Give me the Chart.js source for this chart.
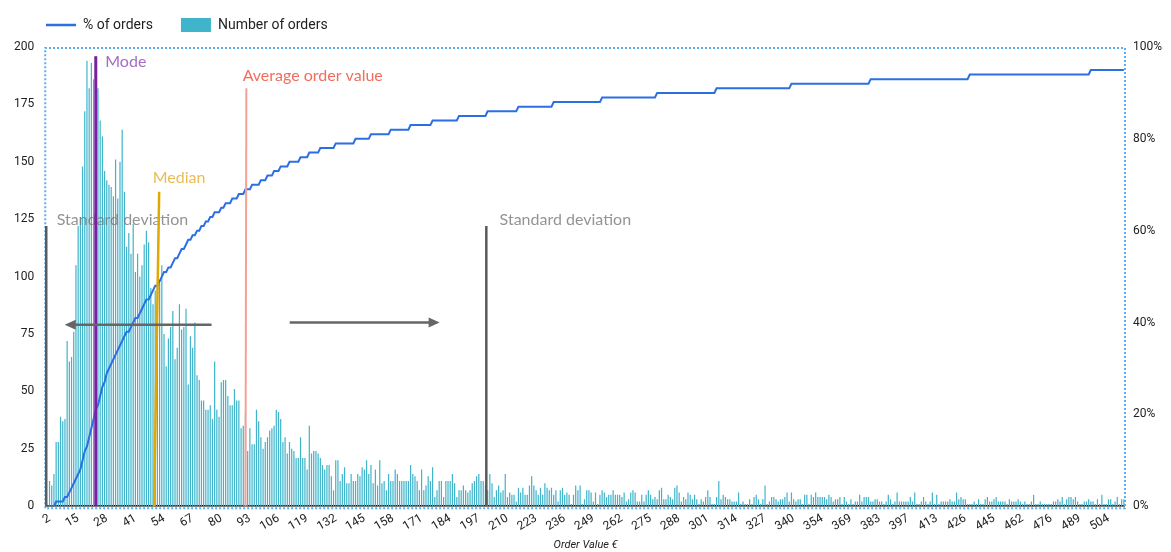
<!DOCTYPE html>
<html>
<head>
<meta charset="utf-8">
<title>Order value distribution</title>
<script src="https://cdn.jsdelivr.net/npm/chart.js@4.4.1/dist/chart.umd.min.js"></script>
<style>
  html, body { margin: 0; padding: 0; background: #fff; }
  #wrap { width: 1171px; height: 552px; }
</style>
</head>
<body>
<div id="wrap"><canvas id="chart"></canvas></div>
<script>
// order value (EUR) per bar; 1 has no orders, values above 340 are not all present
const categories = [
  1,2,3,4,5,6,7,8,9,10,11,12,13,14,15,16,17,18,19,20,
  21,22,23,24,25,26,27,28,29,30,31,32,33,34,35,36,37,38,39,40,
  41,42,43,44,45,46,47,48,49,50,51,52,53,54,55,56,57,58,59,60,
  61,62,63,64,65,66,67,68,69,70,71,72,73,74,75,76,77,78,79,80,
  81,82,83,84,85,86,87,88,89,90,91,92,93,94,95,96,97,98,99,100,
  101,102,103,104,105,106,107,108,109,110,111,112,113,114,115,116,117,118,119,120,
  121,122,123,124,125,126,127,128,129,130,131,132,133,134,135,136,137,138,139,140,
  141,142,143,144,145,146,147,148,149,150,151,152,153,154,155,156,157,158,159,160,
  161,162,163,164,165,166,167,168,169,170,171,172,173,174,175,176,177,178,179,180,
  181,182,183,184,185,186,187,188,189,190,191,192,193,194,195,196,197,198,199,200,
  201,202,203,204,205,206,207,208,209,210,211,212,213,214,215,216,217,218,219,220,
  221,222,223,224,225,226,227,228,229,230,231,232,233,234,235,236,237,238,239,240,
  241,242,243,244,245,246,247,248,249,250,251,252,253,254,255,256,257,258,259,260,
  261,262,263,264,265,266,267,268,269,270,271,272,273,274,275,276,277,278,279,280,
  281,282,283,284,285,286,287,288,289,290,291,292,293,294,295,296,297,298,299,300,
  301,302,303,304,305,306,307,308,309,310,311,312,313,314,315,316,317,318,319,320,
  321,322,323,324,325,326,327,328,329,330,331,332,333,334,335,336,337,338,339,340,
  341,342,343,344,345,346,348,349,350,351,352,353,354,
  355,356,357,359,360,361,362,363,365,366,367,368,369,
  370,371,372,373,374,375,377,378,379,380,381,382,383,
  384,385,386,387,388,389,390,392,393,394,395,396,397,
  398,399,400,402,403,404,406,407,408,410,411,412,413,
  414,415,416,417,418,419,420,421,422,423,424,425,426,
  427,428,430,431,433,434,436,437,439,441,442,444,445,
  446,447,448,450,451,453,454,456,457,458,460,461,462,
  463,464,465,466,467,468,469,471,472,473,474,475,476,
  477,478,479,480,481,482,483,484,485,486,487,488,489,
  490,491,492,493,494,496,497,498,499,501,502,503,504,
  505,506,508,509,511,512,514
];

// value labels shown under the axis
const xTickLabels = [2,15,28,41,54,67,80,93,106,119,132,145,158,171,184,197,210,223,236,249,
  262,275,288,301,314,327,340,354,369,383,397,413,426,445,462,476,489,504];

// number of orders per order value
const orderCounts = [
  0,
  11,9,14,28,28,39,37,38,72,63,65,76,105,122,126,148,172,194,182,193,
  186,196,182,168,161,146,142,140,139,135,151,134,150,164,137,113,119,110,123,102,
  110,100,105,114,120,115,95,88,94,98,
  97,105,75,61,73,78,85,64,69,88,77,78,86,53,74,69,80,57,55,46,
  46,42,42,44,38,63,42,39,54,55,55,48,44,44,51,46,46,34,35,41,
  24,34,27,27,42,37,30,25,28,30,33,34,35,42,41,38,28,30,23,28,
  25,24,21,21,30,21,21,16,
  35,23,24,24,23,21,18,16,18,18,13,7,20,20,11,14,17,10,10,14,
  11,11,14,13,17,16,20,14,18,10,16,9,20,10,11,7,14,11,11,16,
  14,11,11,11,11,11,18,14,13,11,7,16,7,9,13,11,17,4,7,11,
  11,4,11,11,11,14,10,4,7,7,9,7,6,7,10,11,13,14,11,11,
  9,7,14,10,4,7,9,6,7,14,4,6,5,5,2,8,
  6,8,5,5,9,13,9,7,5,8,5,10,8,7,8,5,7,2,7,8,
  5,6,5,1,5,9,7,9,1,3,7,7,6,2,6,1,5,7,6,4,
  5,5,7,5,5,5,4,6,2,3,6,7,6,2,2,5,2,5,7,5,
  3,4,3,7,8,3,3,5,4,3,8,9,6,2,4,3,6,5,3,5,
  3,1,3,2,4,7,4,1,1,4,11,3,5,4,3,3,2,2,2,6,
  1,2,1,1,3,1,4,5,3,1,3,9,1,2,4,4,3,2,3,3,
  4,6,2,6,3,2,3,3,1,5,5,1,5,4,6,4,
  4,4,4,3,5,4,2,3,3,4,1,4,2,1,3,1,2,2,5,2,
  4,4,4,2,2,3,3,2,2,1,2,5,3,1,2,6,2,2,2,2,
  2,4,2,6,1,1,2,4,2,1,2,6,1,5,1,2,2,2,2,3,
  2,2,6,3,4,3,3,1,1,1,2,1,3,1,1,3,4,2,2,3,
  4,2,2,2,2,1,3,2,2,2,3,2,1,2,1,1,2,5,1,1,
  2,1,1,1,1,1,2,2,3,2,4,1,3,4,4,3,4,2,1,1,
  2,2,3,2,2,1,3,1,5,1,1,3,3,1,2,4,1,3,
  3
];

// cumulative share of orders, %
const orderShare = [
  0,0,0,0,1,1,1,1,2,2,
  3,4,5,6,7,8,10,12,13,15,
  17,19,21,22,24,26,27,29,30,31,
  32,33,34,35,36,37,38,38,39,40,
  41,41,42,43,44,45,45,46,47,48,
  48,49,50,51,51,52,52,53,54,54,
  55,56,56,57,58,58,59,59,60,60,
  61,61,62,62,63,63,64,64,64,65,
  65,66,66,66,67,67,67,68,68,68,
  69,69,69, 70,70,70,70, 71,71,71, 72,72,72, 73,73,73, 74,74,74,74,
  75,75,75,75,75, 76,76,76,76, 77,77,77,77,77,
  78,78,78,78,78,78,78,
  79,79,79,79,79,79,79,79,79,
  80,80,80,80,80,80,80,
  81,81,81,81,81,81,81,81,81,
  82,82,82,82,82,82,82,82,82,
  83,83,83,83,83,83,83,83,83,83,
  84,84,84,84,84,84,84,84,84,84,84,84,
  85,85,85,85,85,85,85,85,85,85,85,85,85,
  86,86,86,86,86,86,86,86,86,86,86,86,86,86,
  87,87,87,87,87,87,87,87,87,87,
  87,87,87,87,87,87,
  88,88,88,88,88,88,88,88,88,88,
  88,88,88,88,88,88,88,88,88,88,
  88,88,
  89,89,89,89,89,89,89,89,89,89,
  89,89,89,89,89,89,89,89,89,89,
  89,89,89,89,89,
  90,90,90,90,90,90,90,90,90,90,
  90,90,90,90,90,90,90,90,90,90,
  90,90,90,90,90,90,90,
  91,91,91,91,91,91,91,91,91,91,
  91,91,91,91,91,91,91,91,91,91,
  91,91,91,91,91,91,91,91,91,91,
  91,91,91,91,
  92,92,92,92,92,92,92,92,92,92,
  92,92,92,92,92,92,92,92,92,92,
  92,92,92,92,92,92,92,92,92,92,
  92,92,92,92,92,92,
  93,93,93,93,93,93,93,93,93,93,
  93,93,93,93,93,93,93,93,93,93,
  93,93,93,93,93,93,93,93,93,93,
  93,93,93,93,93,93,93,93,93,93,
  93,93,93,93,93,
  94,94,94,94,94,94,94,94,94,94,
  94,94,94,94,94,94,94,94,94,94,
  94,94,94,94,94,94,94,94,94,94,
  94,94,94,94,94,94,94,94,94,94,
  94,94,94,94,94,94,94,94,94,94,
  94,94,94,94,94,
  95,95,95,95,95,95,95,95,95,95,
  95,95,95,95,95,95
];

// annotations: positions are bar indexes, heights are in orders
const markerLabels = ['Standard deviation', 'Mode', 'Median', 'Average order value', 'Standard deviation'];
const markerFoot = [-0.5, 22, 48.5, 90, 199.4];
const markerTip = [-0.5, 22, 50.8, 90.4, 199.4];
const markerHeight = [122, 196, 137, 182, 122];
const arrowFrom = [74.6, 110.1];
const arrowTo = [7.9, 178.2];
const arrowLevel = [79, 80];

// styles for the annotations
const markerLineColors = ['#5a5a5a', '#7b1fa2', '#e0a800', '#f5a096', '#5a5a5a'];
const markerTextColors = ['rgba(120,120,120,0.8)', '#a66cc4', '#e8bd55', '#f26d5e', 'rgba(120,120,120,0.8)'];
const markerLineWidths = [2.5, 3, 2.5, 2, 2.5];
const markerTextShift = [[10.5, -6], [9.5, 6], [-6.5, -14], [-3.7, -12], [13.3, -6]];

const barColor = '#3fb4cb';
const lineColor = '#2a6fe3';

Chart.defaults.font.family = 'Roboto';

const frameAndNotes = {
    id: 'frameAndNotes',
    afterLayout(chart) {
        // push the legend to line up with the plot's left edge
        const lg = chart.legend;
        lg.left += 16;
        lg.right += 16;
        lg.top -= 5;
        lg.bottom -= 5;
    },
    beforeDatasetsDraw(chart) {
        const {ctx, chartArea: a} = chart;
        ctx.save();
        ctx.strokeStyle = '#5eadf2';
        ctx.lineWidth = 2;
        ctx.setLineDash([2, 2]);
        ctx.beginPath();
        ctx.moveTo(a.left - 1, a.bottom + 2);
        ctx.lineTo(a.left - 1, a.top + 1);
        ctx.lineTo(a.right, a.top + 1);
        ctx.lineTo(a.right, a.bottom + 2);
        ctx.lineTo(a.left - 1, a.bottom + 2);
        ctx.stroke();
        ctx.restore();
    },
    afterDatasetsDraw(chart) {
        const {ctx, scales: {x, y}} = chart;
        ctx.save();
        ctx.font = '16px Lato';
        ctx.textBaseline = 'middle';
        markerLabels.forEach((label, i) => {
            const xFoot = x.getPixelForValue(markerFoot[i]);
            const xTip = x.getPixelForValue(markerTip[i]);
            const yTip = y.getPixelForValue(markerHeight[i]);
            ctx.strokeStyle = markerLineColors[i];
            ctx.lineWidth = markerLineWidths[i];
            ctx.beginPath();
            ctx.moveTo(xFoot, y.getPixelForValue(0));
            ctx.lineTo(xTip, yTip);
            ctx.stroke();
            ctx.fillStyle = markerTextColors[i];
            ctx.fillText(label, xTip + markerTextShift[i][0], yTip + markerTextShift[i][1]);
        });
        ctx.strokeStyle = '#666';
        ctx.fillStyle = '#666';
        ctx.lineWidth = 2.5;
        arrowFrom.forEach((from, i) => {
            const x0 = x.getPixelForValue(from);
            const x1 = x.getPixelForValue(arrowTo[i]);
            const yy = y.getPixelForValue(arrowLevel[i]);
            const dir = Math.sign(x1 - x0);
            ctx.beginPath();
            ctx.moveTo(x0, yy);
            ctx.lineTo(x1 - dir * 8, yy);
            ctx.stroke();
            ctx.beginPath();
            ctx.moveTo(x1, yy);
            ctx.lineTo(x1 - dir * 11, yy - 5);
            ctx.lineTo(x1 - dir * 11, yy + 5);
            ctx.closePath();
            ctx.fill();
        });
        ctx.restore();
    }
};

new Chart(document.getElementById('chart'), {
    type: 'bar',
    data: {
        labels: categories,
        datasets: [{
            type: 'line',
            label: '% of orders',
            data: orderShare,
            yAxisID: 'y1',
            borderColor: lineColor,
            borderWidth: 2,
            pointRadius: 0,
            tension: 0,
            pointStyle: 'line',
            order: 0
        }, {
            type: 'bar',
            label: 'Number of orders',
            data: orderCounts,
            yAxisID: 'y',
            backgroundColor: barColor,
            borderWidth: 0,
            barPercentage: 0.55,
            categoryPercentage: 1,
            pointStyle: 'rect',
            order: 1
        }]
    },
    options: {
        responsive: true,
        maintainAspectRatio: false,
        animation: false,
        events: [],
        layout: {padding: {left: 2, right: 1, top: -5, bottom: 0}},
        plugins: {
            tooltip: {enabled: false},
            legend: {
                position: 'top',
                align: 'start',
                labels: {
                    usePointStyle: true,
                    pointStyleWidth: 30,
                    boxHeight: 14,
                    padding: 28,
                    color: '#222',
                    font: {size: 14},
                    generateLabels(chart) {
                        const items = Chart.defaults.plugins.legend.labels.generateLabels(chart);
                        items[0].pointStyle = 'line';
                        items[0].lineWidth = 2.5;
                        items[1].pointStyle = 'rect';
                        items[1].lineWidth = 0;
                        return items;
                    }
                }
            }
        },
        scales: {
            x: {
                grid: {display: false, drawTicks: false},
                border: {display: true, color: '#000', width: 1.5},
                ticks: {
                    autoSkip: false,
                    maxRotation: 30,
                    minRotation: 30,
                    padding: 5,
                    color: '#222',
                    font: {size: 12},
                    callback: (value, index) => xTickLabels.includes(categories[index]) ? String(categories[index]) : ''
                },
                title: {
                    display: true,
                    text: 'Order Value €',
                    color: '#222',
                    font: {size: 11, style: 'italic'},
                    padding: {top: 0, bottom: 0}
                }
            },
            y: {
                position: 'left',
                min: 0,
                max: 200,
                grid: {display: false, drawTicks: false},
                border: {display: false},
                ticks: {stepSize: 25, padding: 12, color: '#222', font: {size: 12}}
            },
            y1: {
                position: 'right',
                min: 0,
                max: 100,
                grid: {display: false, drawTicks: false},
                border: {display: false},
                ticks: {stepSize: 20, padding: 8, color: '#222', font: {size: 12}, callback: v => v + '%'}
            }
        }
    },
    plugins: [frameAndNotes]
});
</script>
</body>
</html>
